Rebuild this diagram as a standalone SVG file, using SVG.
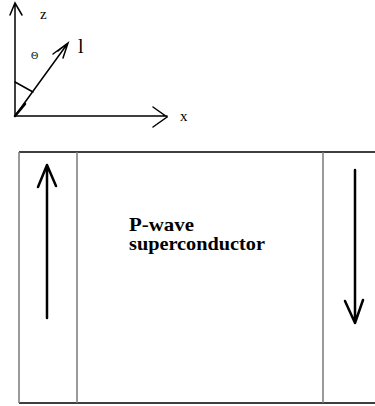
<svg xmlns="http://www.w3.org/2000/svg" width="375" height="406" viewBox="0 0 375 406">
<style>
.ax{stroke:#000;stroke-width:1.5;fill:none;stroke-linecap:round}
.thick{stroke:#000;stroke-width:2.5;fill:none;stroke-linecap:round;stroke-linejoin:round}
.wall{stroke:#7a7a7a;stroke-width:1.5;fill:none}
.edge{stroke:#000;stroke-width:1.5;fill:none}
.t{font-family:"Liberation Serif","Times New Roman",serif;fill:#000}
</style>
<rect width="375" height="406" fill="#fff"/>
<g id="axes">
<path class="ax" d="M15,116 V3 M10,15 L15,3 L22,15"/>
<path class="ax" d="M15,116 H167 M153,107 L167,117 L153,127"/>
<path class="ax" d="M15,116 L68,43 M53,54 L68,43 L63,58 M58,51 L68,43"/>
<path class="ax" d="M15,82 L33,92"/>
<path class="ax" d="M15,116 L25,104" style="stroke-width:2.5"/>
<text class="t" x="40" y="19" font-size="15">z</text>
<text class="t" x="180" y="121" font-size="15">x</text>
<text class="t" x="78" y="53" font-size="20">l</text>
<text class="t" x="31" y="59" font-size="10">Θ</text>
</g>
<g id="box">
<path class="edge" d="M19,152 H375 M19,403 H375"/>
<path class="wall" d="M19,152 V403 M77,152 V403 M323,152 V403"/>
</g>
<g id="connectors">
<path class="thick" d="M47,318 V165 M38,187 L47,165 L56,186"/>
<path class="thick" d="M355,170 V323 M345,301 L355,323 L363,300"/>
</g>
<g id="label">
<text class="t" x="129" y="231" font-size="19" font-weight="bold" textLength="65" lengthAdjust="spacingAndGlyphs">P-wave</text>
<text class="t" x="129" y="250" font-size="19" font-weight="bold" textLength="136" lengthAdjust="spacingAndGlyphs">superconductor</text>
</g>
</svg>
